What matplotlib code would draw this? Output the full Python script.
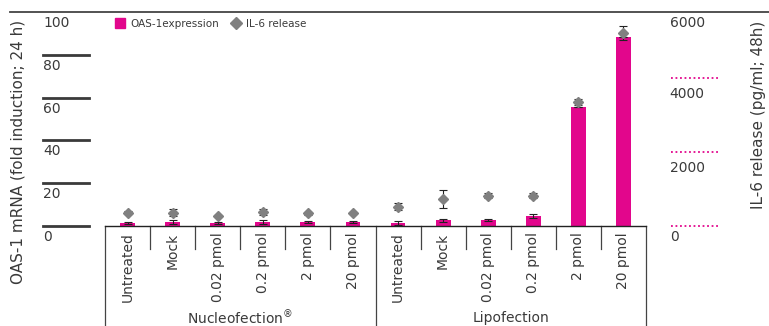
import numpy as np
import matplotlib.pyplot as plt
from matplotlib.lines import Line2D
from matplotlib import transforms

categories = ["Untreated", "Mock", "0.02 pmol", "0.2 pmol", "2 pmol", "20 pmol",
              "Untreated", "Mock", "0.02 pmol", "0.2 pmol", "2 pmol", "20 pmol"]
groups = ["Nucleofection$^{\\circledR}$", "Lipofection"]

# OAS-1 fold induction (24 h)
oas1 = [1.4, 1.9, 1.4, 1.9, 1.9, 1.9, 1.4, 2.8, 2.8, 4.7, 55.6, 88.2]
oas1_err = [0.6, 0.9, 0.4, 0.9, 0.5, 0.6, 0.8, 0.7, 0.4, 0.8, 0.0, 0.0]

# IL-6 release (pg/ml, 48 h)
il6 = [360, 360, 280, 390, 350, 360, 520, 720, 820, 820, 3350, 5220]
il6_err = [40, 100, 30, 80, 40, 30, 95, 245, 60, 70, 80, 190]

left_ticks = [0, 20, 40, 60, 80, 100]
right_ticks = [0, 2000, 4000, 6000]

pink = "#e2068c"
grey = "#808080"
dark = "#3a3a3a"

W, H = 769, 326
fig = plt.figure(figsize=(W / 100, H / 100), dpi=100)
x0, x1, y0, y1 = 105, 646, 226, 12
ax = fig.add_axes([x0 / W, 1 - y0 / H, (x1 - x0) / W, (y0 - y1) / H])
ax2 = ax.twinx()

n = len(categories)
xs = np.arange(n) + 0.5
ax.bar(xs, oas1, width=0.33, color=pink, zorder=2)
ax.errorbar(xs, oas1, yerr=oas1_err, fmt="none", ecolor="#222222",
            elinewidth=0.8, capsize=3, capthick=0.8, zorder=3)
ax.set_xlim(0, n)
ax.set_ylim(0, 100)

ax2.errorbar(xs, il6, yerr=il6_err, fmt="D", color=grey, ms=5,
             ecolor="#222222", elinewidth=0.8, capsize=3, capthick=0.8, zorder=4)
ax2.set_ylim(0, (y0 - y1) / 37 * 1000)

for a in (ax, ax2):
    for s in a.spines.values():
        s.set_visible(False)
    a.set_xticks([])
    a.set_yticks([])
ax.spines["bottom"].set_visible(True)
ax.spines["bottom"].set_linewidth(1.0)
ax.spines["bottom"].set_color("#222222")

# left scale: short bars with labels hanging under them
tl = transforms.blended_transform_factory(ax.transAxes, ax.transData)
for v in left_ticks:
    if v < 100:
        ax.add_line(Line2D([-0.1146, -0.0296], [v, v], transform=tl, color=dark,
                           lw=2, clip_on=False))
    off = transforms.offset_copy(tl, fig=fig, y=-11, units="dots")
    ax.text(-0.1146, v, str(v), transform=off, ha="left", va="center",
            fontsize=10, color=dark)

# right scale: dotted pink guides
tr = transforms.blended_transform_factory(ax2.transAxes, ax2.transData)
for v in right_ticks:
    if v < 6000:
        ax2.add_line(Line2D([1.046, 1.135], [v, v], transform=tr, color=pink,
                            lw=1.3, ls=(0, (1, 1.5)), clip_on=False))
        dy = -11 if v == 0 else -16
    else:
        dy = -11
        v = ax2.get_ylim()[1]
    off = transforms.offset_copy(tr, fig=fig, y=dy, units="dots")
    ax2.text(1.044, v, f"{int(round(v, -3))}", transform=off, ha="left", va="center",
             fontsize=10, color=dark)

# category dividers and labels
tb = transforms.blended_transform_factory(ax.transData, ax.transAxes)
for i in range(n + 1):
    low = -0.467 if i in (0, 6, 12) else -0.107
    ax.add_line(Line2D([i, i], [0, low], transform=tb, color="#444444",
                       lw=0.9, clip_on=False))
for x, lab in zip(xs, categories):
    ax.text(x, -0.03, lab, transform=tb, rotation=90, ha="center", va="top",
            fontsize=10, color=dark)
ax.text(3, -0.43, groups[0], transform=tb, ha="center", va="center",
        fontsize=10, color=dark)
ax.text(9, -0.43, groups[1], transform=tb, ha="center", va="center",
        fontsize=10, color=dark)

# axis titles
fig.text(18 / W, 1 - 152 / H, "OAS-1 mRNA (fold induction; 24 h)", rotation=90,
         ha="center", va="center", fontsize=11, color=dark)
fig.text(758 / W, 1 - 115 / H, "IL-6 release (pg/ml; 48h)", rotation=90,
         ha="center", va="center", fontsize=11, color=dark)

# top rule
fig.add_artist(Line2D([10 / W, 1], [1 - 12 / H] * 2, transform=fig.transFigure,
                      color="#444444", lw=1.3))

# legend
handles = [Line2D([], [], marker="s", ls="none", color=pink, ms=7),
           Line2D([], [], marker="D", ls="none", color=grey, ms=6)]
fig.legend(handles, ["OAS-1expression", "IL-6 release"], loc="center left",
           bbox_to_anchor=(114 / W, 1 - 24 / H), ncol=2, frameon=False,
           fontsize=7.5, handletextpad=0.4, columnspacing=1.0, handlelength=1.2,
           labelcolor=dark, borderaxespad=0, borderpad=0)

fig.savefig("out.png", dpi=100)
